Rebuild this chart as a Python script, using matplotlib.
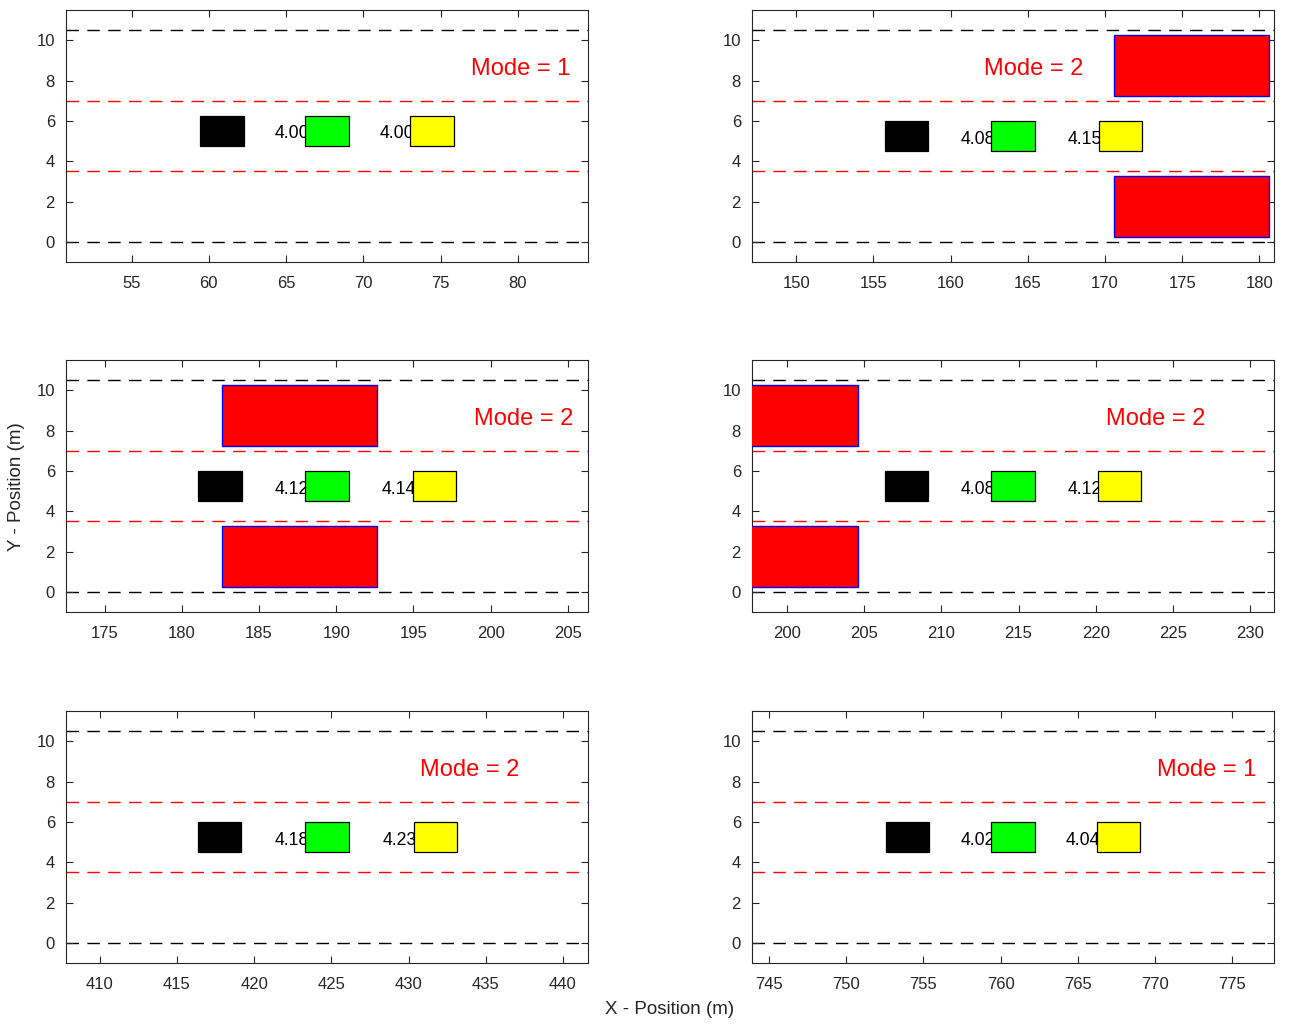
import matplotlib.pyplot as plt
from matplotlib.patches import Rectangle

plt.rcParams['font.family'] = ['Liberation Sans', 'DejaVu Sans']

# rear (left) edge of each vehicle in the six snapshots, metres
black_x = [59.45, 155.76, 181.07, 206.36, 416.34, 752.57]
green_x = [66.25, 162.64, 188.00, 213.24, 423.32, 759.40]
yellow_x = [73.05, 169.59, 194.94, 220.16, 430.33, 766.23]
# lower edge of the platoon in y
platoon_y = [4.75, 4.5, 4.5, 4.5, 4.5, 4.5]
# gap labels shown in front of green and yellow
gap_green = ['4.00', '4.08', '4.12', '4.08', '4.18', '4.02']
gap_yellow = ['4.00', '4.15', '4.14', '4.12', '4.23', '4.04']
modes = [1, 2, 2, 2, 2, 1]
mode_x = [76.99, 162.15, 198.93, 220.63, 430.76, 770.10]
# obstacle trucks (rear edge), one per side lane; None = no obstacle
obstacle_x = [None, 170.6, 182.63, 194.6, None, None]
obstacle_y = [0.25, 7.25]
road_edges = [0.0, 10.5]
lane_marks = [3.5, 7.0]

CAR_L, CAR_W = 2.8, 1.5
TRUCK_L, TRUCK_W = 10.0, 3.0
HALF_SPAN = 16.9
AX_COLOR = '0.15'

fig = plt.figure(figsize=(12.89, 10.24), dpi=100)

lefts = [66 / 1289, 752 / 1289]
bottoms = [1 - 262 / 1024, 1 - 612 / 1024, 1 - 963 / 1024]
width = 522 / 1289
height = 252 / 1024

for i in range(6):
    row, col = divmod(i, 2)
    ax = fig.add_axes([lefts[col], bottoms[row], width, height])

    xc = green_x[i] + CAR_L / 2
    ax.set_xlim(xc - HALF_SPAN, xc + HALF_SPAN)
    ax.set_ylim(-1, 11.5)
    ax.set_yticks(range(0, 11, 2))

    for y in road_edges:
        ax.axhline(y, color='black', lw=1.0, dashes=(9, 6), zorder=1)
    for y in lane_marks:
        ax.axhline(y, color='red', lw=1.0, dashes=(9, 6), zorder=1)

    # obstacle trucks
    if obstacle_x[i] is not None:
        for oy in obstacle_y:
            ax.add_patch(Rectangle((obstacle_x[i], oy), TRUCK_L, TRUCK_W,
                                   facecolor='red', edgecolor='blue', lw=1.0, zorder=3))

    yb = platoon_y[i]
    ym = yb + CAR_W / 2
    # gap labels sit under the boxes
    ax.text(green_x[i] - 2.0, ym - 0.15, gap_green[i], fontsize=12.7, va='center', ha='left',
            color='black', zorder=2)
    ax.text(yellow_x[i] - 2.0, ym - 0.15, gap_yellow[i], fontsize=12.7, va='center', ha='left',
            color='black', zorder=2)

    for x, fc in [(black_x[i], 'black'), (green_x[i], '#00ff00'), (yellow_x[i], '#ffff00')]:
        ax.add_patch(Rectangle((x, yb), CAR_L, CAR_W, facecolor=fc,
                               edgecolor='black', lw=0.9, zorder=3))

    ax.text(mode_x[i], 8.55, f'Mode = {modes[i]}', color='red', fontsize=17,
            va='center', ha='left', zorder=4)

    ax.tick_params(direction='in', top=True, right=True, length=5, width=0.8,
                   labelsize=12, colors=AX_COLOR, pad=10)
    ax.tick_params(axis='y', pad=8)
    for s in ax.spines.values():
        s.set_color(AX_COLOR)
        s.set_linewidth(0.8)

fig.text(17 / 1289, 1 - 487 / 1024, 'Y - Position (m)', rotation=90, fontsize=13.5,
         color=AX_COLOR, ha='center', va='center')
fig.text(670 / 1289, 1 - 1009 / 1024, 'X - Position (m)', fontsize=13.5,
         color=AX_COLOR, ha='center', va='center')

fig.savefig('out.png', dpi=100)
